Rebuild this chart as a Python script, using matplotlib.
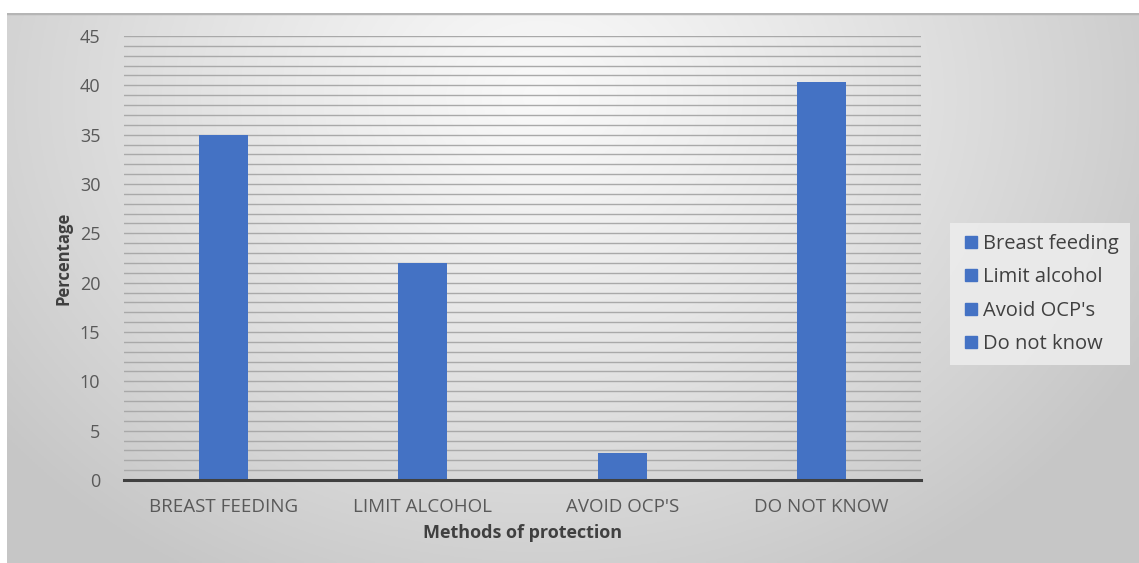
import numpy as np
import matplotlib
matplotlib.use("Agg")
import matplotlib.pyplot as plt
from matplotlib.lines import Line2D
import matplotlib.patheffects as pe

categories = ["BREAST FEEDING", "LIMIT ALCOHOL", "AVOID OCP'S", "DO NOT KNOW"]
legend_labels = ["Breast feeding", "Limit alcohol", "Avoid OCP's", "Do not know"]
values = [35, 22, 2.7, 40.3]
yticks = [0, 5, 10, 15, 20, 25, 30, 35, 40, 45]

plt.rcParams['font.family'] = ['Open Sans', 'DejaVu Sans']

W, H = 1139, 563
fig = plt.figure(figsize=(W / 100, H / 100), dpi=100)
fig.patch.set_facecolor('white')

# background gradient panel
bg = fig.add_axes([7 / W, 0, 1 - 7 / W, 1 - 13 / H])
bg.set_axis_off()
ny, nx = 200, 400
yy, xx = np.mgrid[0:ny, 0:nx]
cx, cy = nx * 0.47, ny * 0.15
d = np.sqrt(((xx - cx) / (nx * 0.6)) ** 2 + ((yy - cy) / (ny * 1.0)) ** 2)
d = np.clip(d, 0, 1)
light = np.array([0.975, 0.975, 0.975])
dark = np.array([0.78, 0.78, 0.78])
img = light[None, None, :] * (1 - d[..., None] ** 1.2) + dark[None, None, :] * (d[..., None] ** 1.2)
bg.imshow(img, aspect='auto', extent=[0, 1, 0, 1], origin='upper')
bg.set_xlim(0, 1)
bg.set_ylim(0, 1)
bg.axhline(1, color='#b5b5b5', lw=2.5)

ax = fig.add_axes([124 / W, 1 - 480 / H, (921 - 124) / W, (480 - 36) / H])
ax.patch.set_alpha(0)
x = np.arange(len(categories))
bar_color = '#4472C4'
for i, (c, v) in enumerate(zip(categories, values)):
    b = ax.bar(x[i], v, width=0.245, color=bar_color, zorder=3)
    for p in b:
        p.set_path_effects([pe.SimplePatchShadow(offset=(0, 0), shadow_rgbFace='#999999', alpha=0.25),
                            pe.Normal()])

ax.set_xlim(-0.5, len(categories) - 0.5)
ax.set_ylim(0, 45)
ax.set_yticks(yticks)
ax.set_yticks(np.arange(0, 46, 1), minor=True)
ax.grid(axis='y', which='both', color='#a9a9a9', lw=1.0, zorder=1)
ax.set_xticks(x)
ax.set_xticklabels(categories)
for s in ['top', 'right', 'left']:
    ax.spines[s].set_visible(False)
ax.spines['bottom'].set_color('#404040')
ax.spines['bottom'].set_linewidth(2.2)
ax.spines['bottom'].set_zorder(4)
ax.tick_params(axis='both', which='both', length=0)
ax.tick_params(axis='y', labelsize=13, labelcolor='#595959', pad=17)
ax.tick_params(axis='x', labelsize=13.5, labelcolor='#595959', pad=13)

ax.set_xlabel("Methods of protection", fontsize=13, fontweight='bold', color='#404040', labelpad=6)
ax.set_ylabel("Percentage", fontsize=12, fontweight='bold', color='#404040', labelpad=5)

handles = [Line2D([], [], marker='s', linestyle='none', markersize=8,
                  markerfacecolor=bar_color, markeredgecolor=bar_color) for _ in legend_labels]
leg = fig.legend(handles, legend_labels, loc='upper left', bbox_to_anchor=(950 / W, 1 - 223 / H),
                 frameon=True, fontsize=14.5, labelspacing=0.66, handletextpad=0.1,
                 borderpad=0.55, borderaxespad=0, handlelength=1.0, fancybox=False)
leg.get_frame().set_facecolor('#ececec')
leg.get_frame().set_edgecolor('none')
leg.get_frame().set_alpha(0.9)
for t in leg.get_texts():
    t.set_color('#404040')

fig.savefig("out.png", dpi=100)
